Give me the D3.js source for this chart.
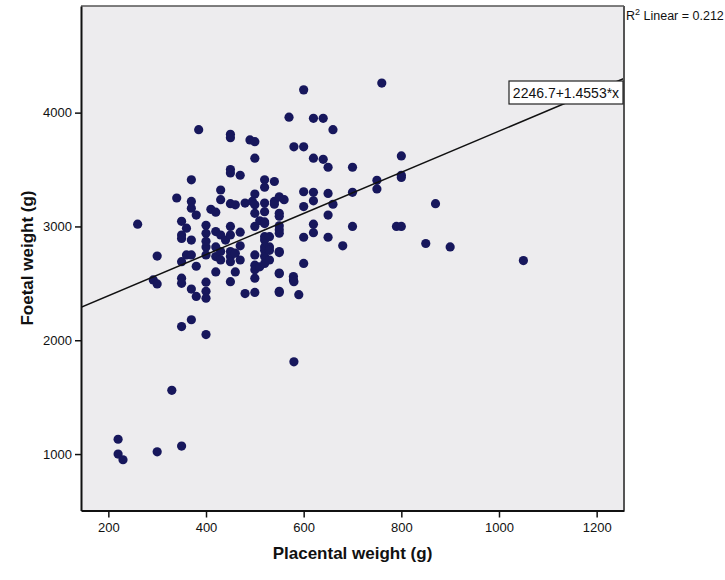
<!DOCTYPE html>
<html>
<head>
<meta charset="utf-8">
<script src="https://cdn.jsdelivr.net/npm/d3@7"></script>
<style>
  html, body { margin: 0; padding: 0; background: #ffffff; }
  svg { display: block; font-family: "Liberation Sans", Arial, sans-serif; }
</style>
</head>
<body>
<svg id="chart" width="725" height="580"></svg>
<script>
// ---- data ----
const placental = [
  220,220,230,300,350,330,580,
  350,370,400,
  260,300,292,300,340,350,360,350,350,370,350,360,370,380,350,350,370,380,370,370,370,380,385,
  400,400,400,400,400,400,400,400,
  410,420,420,420,420,420,430,430,430,430,430,440,
  450,450,450,450,450,450,450,450,450,450,450,460,460,460,470,470,470,470,480,480,
  490,500,500,500,495,500,500,500,500,500,500,500,500,510,510,
  520,520,520,520,520,520,520,520,520,520,520,520,530,530,530,530,540,540,540,
  550,560,550,550,550,550,550,550,550,550,550,550,550,
  570,580,600,579,579,580,590,600,600,600,600,600,
  620,640,660,620,640,650,620,650,620,660,650,620,620,650,680,700,700,700,
  750,750,760,790,800,800,800,800,850,870,900,1050
];
const foetal = [
  1130,1000,950,1020,1070,1560,1810,
  2120,2180,2050,
  3020,2740,2530,2495,3250,3045,2985,2925,2895,2880,2690,2750,2750,2650,2545,2500,2450,2385,3410,3220,3160,3100,3850,
  3010,2940,2820,2750,2510,2430,2370,2870,
  3150,3125,2955,2820,2735,2600,3320,3235,2925,2780,2705,2880,
  3810,3780,3500,3470,3200,3000,2925,2780,2735,2690,2515,3190,2765,2600,3450,2830,2705,2950,3205,2410,
  3760,3745,3600,3285,3220,3190,3115,3000,2750,2660,2620,2545,2420,2645,3050,
  3410,3345,3205,3130,3040,3025,2910,2880,2820,2790,2735,2675,2910,2820,2790,2705,3395,3220,3195,
  3260,3235,3115,3090,3005,2970,2940,2780,2770,2590,2585,2430,2420,
  3960,3700,3700,2560,2530,2515,2400,3305,3175,2905,2675,4200,
  3950,3950,3850,3600,3590,3520,3300,3290,3225,3195,3100,3020,2945,2905,2830,3520,3300,3000,
  3405,3330,4260,3000,3000,3620,3450,3430,2850,3200,2820,2700
];
const xTicks = [200, 400, 600, 800, 1000, 1200];
const yTicks = [1000, 2000, 3000, 4000];
const fitX = [144, 1256];
const fitY = [2290, 4300];
const equationText = "2246.7+1.4553*x";
const r2Value = "0.212";
const xTitle = "Placental weight (g)";
const yTitle = "Foetal weight (g)";

// ---- layout ----
const L = 81, R = 624, T = 6, B = 510.5;
const svg = d3.select("#chart");

const x = d3.scaleLinear().domain([144, 1256]).range([L, R]);
const y = d3.scaleLinear().domain([504, 4937]).range([B, T]);

// plot background
svg.append("rect").attr("x", L).attr("y", T).attr("width", R - L).attr("height", B - T)
  .attr("fill", "#edecee");

svg.append("defs").append("clipPath").attr("id", "plotclip")
  .append("rect").attr("x", L).attr("y", T).attr("width", R - L).attr("height", B - T);

// points
const pts = placental.map((v, i) => ({ px: v, fw: foetal[i] }));
svg.append("g").selectAll("circle").data(pts).join("circle")
  .attr("cx", d => x(d.px)).attr("cy", d => y(d.fw)).attr("r", 4.6)
  .attr("fill", "#17175c");

// fit line
const fit = fitX.map((v, i) => [v, fitY[i]]);
svg.append("path").datum(fit)
  .attr("clip-path", "url(#plotclip)")
  .attr("d", d3.line().x(d => x(d[0])).y(d => y(d[1])))
  .attr("stroke", "#111").attr("stroke-width", 1.5).attr("fill", "none");

// frame: top & right gray borders
svg.append("line").attr("x1", L).attr("x2", R).attr("y1", T).attr("y2", T)
  .attr("stroke", "#555").attr("stroke-width", 1.5);
svg.append("line").attr("x1", R).attr("x2", R).attr("y1", T).attr("y2", B)
  .attr("stroke", "#555").attr("stroke-width", 2);

// axes
const fmt = d3.format("d");
const xAxis = d3.axisBottom(x).tickValues(xTicks).tickFormat(fmt).tickSize(7).tickSizeOuter(0).tickPadding(5);
const gx = svg.append("g").attr("transform", `translate(0,${B})`).call(xAxis);
gx.select(".domain").attr("stroke", "#111").attr("stroke-width", 2);
gx.selectAll(".tick line").attr("stroke", "#111").attr("stroke-width", 1.5);
gx.selectAll(".tick text").attr("font-size", "13px").attr("fill", "#111")
  .attr("font-family", "Liberation Sans, Arial, sans-serif");

const yAxis = d3.axisLeft(y).tickValues(yTicks).tickFormat(fmt).tickSize(6).tickSizeOuter(0).tickPadding(3);
const gy = svg.append("g").attr("transform", `translate(${L},0)`).call(yAxis);
gy.select(".domain").attr("stroke", "#111").attr("stroke-width", 2);
gy.selectAll(".tick line").attr("stroke", "#111").attr("stroke-width", 1.5);
gy.selectAll(".tick text").attr("font-size", "13px").attr("fill", "#111")
  .attr("font-family", "Liberation Sans, Arial, sans-serif");

// axis titles
svg.append("text").attr("x", (L + R) / 2).attr("y", 559)
  .attr("text-anchor", "middle").attr("font-size", "17px").attr("font-weight", "bold")
  .attr("fill", "#111").text(xTitle);
svg.append("text").attr("transform", `translate(33,258) rotate(-90)`)
  .attr("text-anchor", "middle").attr("font-size", "17px").attr("font-weight", "bold")
  .attr("fill", "#111").text(yTitle);

// equation box
const bx = 509, by = 81, bw = 114, bh = 23;
svg.append("rect").attr("x", bx).attr("y", by).attr("width", bw).attr("height", bh)
  .attr("fill", "#ffffff").attr("stroke", "#222").attr("stroke-width", 1.2);
svg.append("text").attr("x", bx + bw / 2).attr("y", by + 17)
  .attr("text-anchor", "middle").attr("font-size", "14px").attr("fill", "#111")
  .text(equationText);

// R² label
const r2 = svg.append("text").attr("x", 626).attr("y", 20).attr("font-size", "12.5px").attr("fill", "#111");
r2.append("tspan").text("R");
r2.append("tspan").attr("dy", -5).attr("font-size", "9px").text("2");
r2.append("tspan").attr("dy", 5).text(" Linear = " + r2Value);
</script>
</body>
</html>
